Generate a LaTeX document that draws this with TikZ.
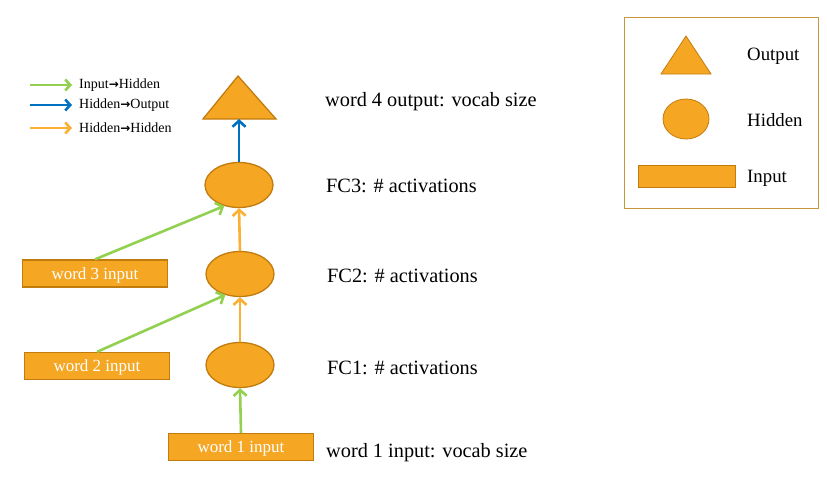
\documentclass[tikz,border=0pt]{standalone}
\usepackage{fontspec}
\setmainfont{Liberation Serif}
\newfontfamily\arrfont{DejaVu Sans}
\usetikzlibrary{arrows.meta,shapes.geometric}
\definecolor{ofill}{HTML}{F5A623}
\definecolor{oline}{HTML}{C27C0E}
\definecolor{agreen}{HTML}{92D050}
\definecolor{ablue}{HTML}{0070C0}
\definecolor{aorange}{HTML}{FBB034}
\definecolor{lbox}{HTML}{C8963C}
\tikzset{
  hid/.style={ellipse,fill=ofill,draw=oline,line width=1.3pt,minimum width=68pt,minimum height=45pt,inner sep=0pt},
  inp/.style={rectangle,fill=ofill,draw=oline,line width=1.3pt,minimum width=145pt,minimum height=27pt,inner sep=0pt,text=white,font=\fontsize{17}{19}\selectfont,text depth=0pt},
  lbl/.style={anchor=west,font=\fontsize{20.3}{22}\selectfont,inner sep=0pt},
  con/.style={line width=2.6pt,-{Straight Barb[length=6pt,width=13pt]}},
  lgt/.style={anchor=west,font=\fontsize{14}{15}\selectfont,inner sep=0pt},
  lga/.style={line width=2.6pt,-{Straight Barb[length=5pt,width=11pt]}},
}
\newcommand{\rar}{{\arrfont\fontsize{12}{13}\selectfont\textbf{→}}}
\begin{document}
\begin{tikzpicture}[x=1pt,y=-1pt]
\useasboundingbox (0,0) rectangle (827,479);
% output triangle
\draw[fill=ofill,draw=oline,line width=1.3pt,line join=miter] (238,76) -- (276,119) -- (203,119) -- cycle;
\coordinate (tribase) at (239,119);
% hidden
\node[hid] (fc3) at (239,185) {};
\node[hid] (fc2) at (240,274) {};
\node[hid] (fc1) at (240,365) {};
% inputs
\node[inp] (w1) at (241,447) {word 1 input};
\node[inp] (w2) at (97,366) {word 2 input};
\node[inp] (w3) at (95,273.5) {word 3 input};
% connectors
\draw[con,agreen] (w1.north) -- (fc1.south);
\draw[con,agreen] (w2.north) -- (fc2.-125);
\draw[con,agreen] (w3.north) -- (fc3.-125);
\draw[con,aorange] (fc1.north) -- (fc2.south);
\draw[con,aorange] (fc2.north) -- (fc3.south);
\draw[con,ablue] (fc3.north) -- (tribase);
% labels
\node[lbl] (l4) at (325,102) {word 4 output: vocab size};
\node[lbl] (l3) at (326,186) {FC3: \# activations};
\node[lbl] (l2) at (327,276) {FC2: \# activations};
\node[lbl] (l1) at (327,368) {FC1: \# activations};
\node[lbl] (l0) at (326,453) {word 1 input: vocab size};
% arrow legend
\coordinate (ga) at (30,85); \coordinate (gb) at (72,85);
\coordinate (ba) at (30,105); \coordinate (bb) at (72,105);
\coordinate (oa) at (30,128); \coordinate (ob) at (72,128);
\draw[lga,agreen] (ga) -- (gb);
\draw[lga,ablue] (ba) -- (bb);
\draw[lga,aorange] (oa) -- (ob);
\node[lgt] (t1) at (79,85) {Input\rar Hidden};
\node[lgt] (t2) at (79,105) {Hidden\rar Output};
\node[lgt] (t3) at (79,128) {Hidden\rar Hidden};
% shape legend
\draw[lbox,line width=1pt] (624,17) rectangle (818,208);
\draw[fill=ofill,draw=oline,line width=0.8pt] (686,36) -- (711,74) -- (661,74) -- cycle;
\node[ellipse,fill=ofill,draw=oline,line width=0.8pt,minimum width=46pt,minimum height=40pt,inner sep=0pt] (lh) at (686,119) {};
\node[rectangle,fill=ofill,draw=oline,line width=0.8pt,minimum width=97pt,minimum height=22pt,inner sep=0pt] (li) at (686.5,176) {};
\node[lgt,font=\fontsize{18.8}{20}\selectfont] (lo) at (747,56) {Output};
\node[lgt,font=\fontsize{18.8}{20}\selectfont] (lhd) at (747,120) {Hidden};
\node[lgt,font=\fontsize{18.8}{20}\selectfont] (lin) at (747,178) {Input};
\end{tikzpicture}
\end{document}
